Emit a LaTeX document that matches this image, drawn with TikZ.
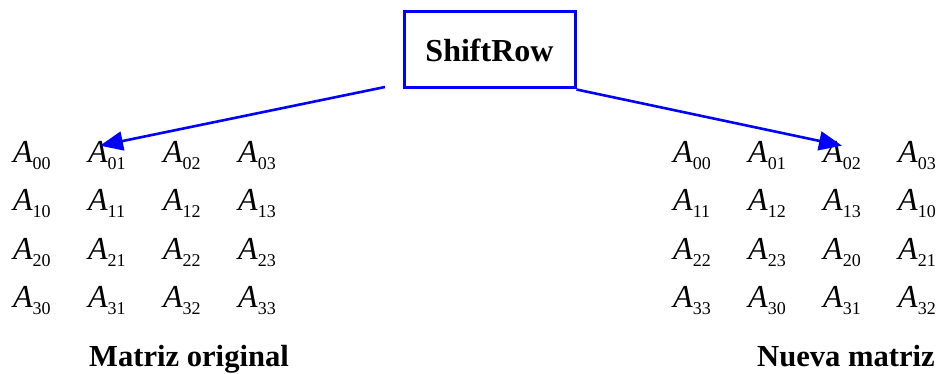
\documentclass[tikz,border=0pt]{standalone}
\usepackage{fontspec}
\setmainfont{Liberation Serif}
\usetikzlibrary{arrows.meta}

% one matrix entry: italic A with an upright two digit index
\newcommand{\entry}[1]{{\fontsize{32}{32}\selectfont\itshape A}\raisebox{-7pt}{\fontsize{18}{18}\selectfont #1}}

\begin{document}
\begin{tikzpicture}[x=1pt,y=-1pt,
  elem/.style={inner sep=0pt,anchor=base west},
  title/.style={font=\fontsize{30.6}{30.6}\selectfont\bfseries,inner sep=0pt,anchor=base},
  opbox/.style={draw=blue,line width=3pt,minimum width=171pt,minimum height=76pt,inner sep=0pt,
                font=\fontsize{32}{32}\selectfont\bfseries},
  link/.style={blue,line width=2.6pt,-{Triangle[length=23pt,width=19pt]}}]
\useasboundingbox (0,0) rectangle (939,374);

\node[opbox] (box) at (489.5,50) {ShiftRow};

% original matrix and the shifted one
\foreach \i in {0,...,3}
  \foreach \j in {0,...,3} {
    \pgfmathtruncatemacro\k{mod(\i+\j,4)}
    \node[elem] (L\i\j) at (13+75*\j,163+48*\i) {\entry{\i\j}};
    \node[elem] (R\i\j) at (673+75*\j,163+48*\i) {\entry{\i\k}};
  }

\node[title] (orig) at (189,366) {Matriz original};
\node[title] (new) at (846,366) {Nueva matriz};

\coordinate (from) at (385,87);
\draw[link] (from) -- ([xshift=-7pt,yshift=-4pt]L01.north);
\draw[link] (box.south east) -- ([xshift=0pt,yshift=-4pt]R02.north);
\end{tikzpicture}
\end{document}
